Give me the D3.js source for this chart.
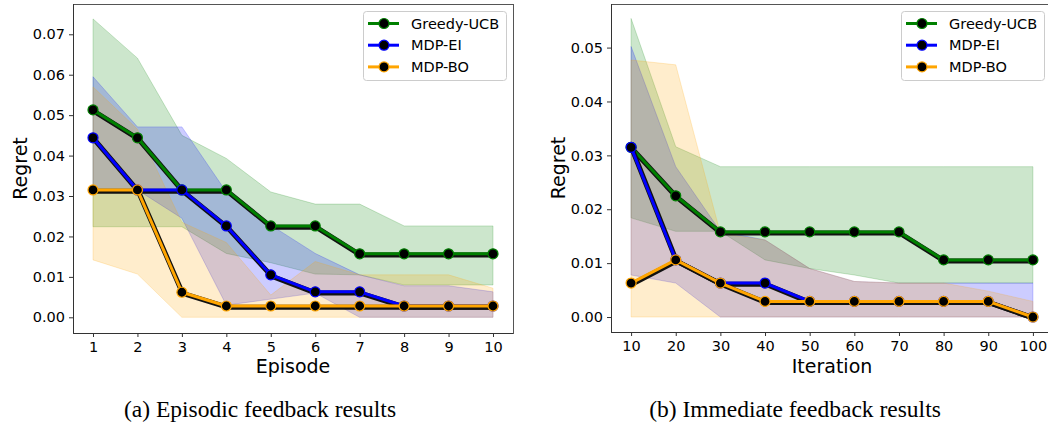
<!DOCTYPE html>
<html>
<head>
<meta charset="utf-8">
<script src="https://cdn.jsdelivr.net/npm/d3@7"></script>
<style>
  body { margin: 0; background: #fff; }
  svg { display: block; }
  .tick text { font-family: "DejaVu Sans", sans-serif; font-size: 14.5px; fill: #000; }
</style>
</head>
<body>
<div id="chart"></div>
<script>
// ---- data ----
var seriesNames = ["Greedy-UCB", "MDP-EI", "MDP-BO"];
var seriesColors = ["#008000", "#0000ff", "#ffa500"];

var episodes = [1, 2, 3, 4, 5, 6, 7, 8, 9, 10];
var episodeTicks = [1, 2, 3, 4, 5, 6, 7, 8, 9, 10];
var episodicYTicks = [0.00, 0.01, 0.02, 0.03, 0.04, 0.05, 0.06, 0.07];

var epiGreedy      = [0.0513, 0.0444, 0.0315, 0.0315, 0.0226, 0.0226, 0.0157, 0.0157, 0.0157, 0.0157];
var epiGreedyUpper = [0.0738, 0.0641, 0.0450, 0.0393, 0.0310, 0.0280, 0.0280, 0.0226, 0.0226, 0.0226];
var epiGreedyLower = [0.0224, 0.0224, 0.0224, 0.0158, 0.0135, 0.0107, 0.0105, 0.0080, 0.0080, 0.0080];
var epiEI          = [0.0444, 0.0315, 0.0315, 0.0226, 0.0105, 0.0063, 0.0063, 0.0028, 0.0028, 0.0028];
var epiEIUpper     = [0.0595, 0.0471, 0.0471, 0.0310, 0.0228, 0.0158, 0.0105, 0.0078, 0.0078, 0.0063];
var epiEILower     = [0.0315, 0.0315, 0.0245, 0.0030, 0.0045, 0.0060, 0.0000, 0.0000, 0.0000, 0.0000];
var epiBO          = [0.0315, 0.0315, 0.0062, 0.0028, 0.0028, 0.0028, 0.0028, 0.0028, 0.0028, 0.0028];
var epiBOUpper     = [0.0570, 0.0465, 0.0235, 0.0185, 0.0055, 0.0138, 0.0105, 0.0105, 0.0105, 0.0072];
var epiBOLower     = [0.0142, 0.0107, 0.0000, 0.0000, 0.0000, 0.0000, 0.0000, 0.0000, 0.0000, 0.0000];

var iterations = [10, 20, 30, 40, 50, 60, 70, 80, 90, 100];
var iterationTicks = [10, 20, 30, 40, 50, 60, 70, 80, 90, 100];
var immediateYTicks = [0.00, 0.01, 0.02, 0.03, 0.04, 0.05];

var immGreedy      = [0.0315, 0.0225, 0.0158, 0.0158, 0.0158, 0.0158, 0.0158, 0.0106, 0.0106, 0.0106];
var immGreedyUpper = [0.0554, 0.0316, 0.0279, 0.0279, 0.0279, 0.0279, 0.0279, 0.0279, 0.0279, 0.0279];
var immGreedyLower = [0.0184, 0.0159, 0.0159, 0.0106, 0.0090, 0.0078, 0.0063, 0.0063, 0.0063, 0.0063];
var immEI          = [0.0315, 0.0106, 0.0063, 0.0063, 0.0029, 0.0029, 0.0029, 0.0029, 0.0029, 0.0000];
var immEIUpper     = [0.0502, 0.0279, 0.0159, 0.0143, 0.0090, 0.0066, 0.0063, 0.0063, 0.0063, 0.0063];
var immEILower     = [0.0078, 0.0063, 0.0000, 0.0000, 0.0000, 0.0000, 0.0000, 0.0000, 0.0000, 0.0000];
var immBO          = [0.0063, 0.0106, 0.0063, 0.0029, 0.0029, 0.0029, 0.0029, 0.0029, 0.0029, 0.0000];
var immBOUpper     = [0.0477, 0.0468, 0.0155, 0.0143, 0.0090, 0.0066, 0.0063, 0.0063, 0.0048, 0.0029];
var immBOLower     = [0.0000, 0.0000, 0.0000, 0.0000, 0.0000, 0.0000, 0.0000, 0.0000, 0.0000, 0.0000];

var captions = ["(a) Episodic feedback results", "(b) Immediate feedback results"];

var svg = d3.select("#chart").append("svg")
    .attr("width", 1048)
    .attr("height", 425);

function drawPanel(opts) {
    var g = svg.append("g");
    var left = opts.left, right = opts.right, top = opts.top, bottom = opts.bottom;

    var x = d3.scaleLinear().domain(opts.xDomain).range([left, right]);
    var y = d3.scaleLinear().domain(opts.yDomain).range([bottom, top]);

    var clipId = "clip" + opts.id;
    svg.append("clipPath").attr("id", clipId)
        .append("rect")
        .attr("x", left).attr("y", top)
        .attr("width", right - left).attr("height", bottom - top);

    var plot = g.append("g").attr("clip-path", "url(#" + clipId + ")");

    // shaded bands
    opts.series.forEach(function(s, si) {
        var pts = opts.xs.map(function(xv, i) { return { x: xv, lo: s.lower[i], hi: s.upper[i] }; });
        var area = d3.area()
            .x(function(d) { return x(d.x); })
            .y0(function(d) { return y(d.lo); })
            .y1(function(d) { return y(d.hi); });
        plot.append("path")
            .datum(pts)
            .attr("d", area)
            .attr("fill", seriesColors[si])
            .attr("fill-opacity", 0.2)
            .attr("stroke", seriesColors[si])
            .attr("stroke-opacity", 0.2)
            .attr("stroke-width", 1);
    });

    // lines with dark shadow + markers
    var line = d3.line()
        .x(function(d) { return x(d.x); })
        .y(function(d) { return y(d.v); });

    opts.series.forEach(function(s, si) {
        var pts = opts.xs.map(function(xv, i) { return { x: xv, v: s.values[i] }; });
        plot.append("path")
            .datum(pts)
            .attr("d", line)
            .attr("transform", "translate(0.8,1.2)")
            .attr("fill", "none")
            .attr("stroke", "#111")
            .attr("stroke-width", 5)
            .attr("stroke-linejoin", "round");
        plot.append("path")
            .datum(pts)
            .attr("d", line)
            .attr("fill", "none")
            .attr("stroke", seriesColors[si])
            .attr("stroke-width", 3)
            .attr("stroke-linejoin", "round");
        plot.selectAll(".m" + si)
            .data(pts)
            .enter().append("circle")
            .attr("cx", function(d) { return x(d.x); })
            .attr("cy", function(d) { return y(d.v); })
            .attr("r", 5)
            .attr("fill", "#000")
            .attr("stroke", seriesColors[si])
            .attr("stroke-width", 1.2);
    });

    // axes
    var xAxis = d3.axisBottom(x).tickValues(opts.xTicks).tickSize(4).tickPadding(4)
        .tickFormat(d3.format("d"));
    var yAxis = d3.axisLeft(y).tickValues(opts.yTicks).tickSize(4).tickPadding(4)
        .tickFormat(d3.format(".2f"));

    var gx = g.append("g")
        .attr("transform", "translate(0," + bottom + ")")
        .call(xAxis);
    var gy = g.append("g")
        .attr("transform", "translate(" + left + ",0)")
        .call(yAxis);
    [gx, gy].forEach(function(a) {
        a.select(".domain").remove();
        a.selectAll(".tick line").attr("stroke", "#333");
    });
    gx.selectAll(".tick text").attr("dy", "0.78em");

    // frame
    g.append("rect")
        .attr("x", left + 0.5).attr("y", top + 0.5)
        .attr("width", right - left).attr("height", bottom - top)
        .attr("fill", "none")
        .attr("stroke", "#555")
        .attr("stroke-width", 1);
    g.append("path")
        .attr("d", "M" + (left + 0.5) + "," + top + "V" + (bottom + 0.5) + "H" + right)
        .attr("fill", "none")
        .attr("stroke", "#333")
        .attr("stroke-width", 1);

    // axis labels
    g.append("text")
        .attr("x", (left + right) / 2)
        .attr("y", opts.xLabelY)
        .attr("text-anchor", "middle")
        .style("font-family", "DejaVu Sans, sans-serif")
        .style("font-size", "19px")
        .text(opts.xLabel);
    g.append("text")
        .attr("transform", "translate(" + opts.yLabelX + "," + ((top + bottom) / 2) + ") rotate(-90)")
        .attr("text-anchor", "middle")
        .style("font-family", "DejaVu Sans, sans-serif")
        .style("font-size", "19px")
        .text("Regret");

    // legend
    var lg = g.append("g").attr("transform", "translate(" + opts.legendX + ",11)");
    lg.append("rect")
        .attr("x", 0.5).attr("y", 0.5)
        .attr("width", 143).attr("height", 69)
        .attr("rx", 3)
        .attr("fill", "#fff").attr("fill-opacity", 0.8)
        .attr("stroke", "#ccc");
    seriesNames.forEach(function(name, i) {
        var yy = 12.5 + i * 21.7;
        lg.append("line")
            .attr("x1", 5).attr("x2", 36)
            .attr("y1", yy).attr("y2", yy)
            .attr("stroke", seriesColors[i])
            .attr("stroke-width", 3);
        lg.append("circle")
            .attr("cx", 21).attr("cy", yy).attr("r", 5)
            .attr("fill", "#000")
            .attr("stroke", seriesColors[i])
            .attr("stroke-width", 1.2);
        lg.append("text")
            .attr("x", 48).attr("y", yy + 5.2)
            .style("font-family", "DejaVu Sans, sans-serif")
            .style("font-size", "14.5px")
            .text(name);
    });

    // caption
    svg.append("text")
        .attr("x", opts.captionX)
        .attr("y", 417)
        .attr("text-anchor", "middle")
        .style("font-family", "Liberation Serif, serif")
        .style("font-size", "23.5px")
        .text(opts.caption);
}

drawPanel({
    id: "a",
    left: 73, right: 513, top: 4, bottom: 333,
    xDomain: [0.55, 10.45],
    yDomain: [-0.00388, 0.07749],
    xs: episodes,
    xTicks: episodeTicks,
    yTicks: episodicYTicks,
    series: [
        { values: epiGreedy, upper: epiGreedyUpper, lower: epiGreedyLower },
        { values: epiEI, upper: epiEIUpper, lower: epiEILower },
        { values: epiBO, upper: epiBOUpper, lower: epiBOLower }
    ],
    xLabel: "Episode", xLabelY: 373, yLabelX: 27,
    legendX: 363,
    caption: captions[0], captionX: 260
});

drawPanel({
    id: "b",
    left: 611, right: 1053, top: 4, bottom: 332,
    xDomain: [5.5, 104.5],
    yDomain: [-0.00278, 0.05809],
    xs: iterations,
    xTicks: iterationTicks,
    yTicks: immediateYTicks,
    series: [
        { values: immGreedy, upper: immGreedyUpper, lower: immGreedyLower },
        { values: immEI, upper: immEIUpper, lower: immEILower },
        { values: immBO, upper: immBOUpper, lower: immBOLower }
    ],
    xLabel: "Iteration", xLabelY: 373, yLabelX: 565,
    legendX: 901,
    caption: captions[1], captionX: 795
});
</script>
</body>
</html>
